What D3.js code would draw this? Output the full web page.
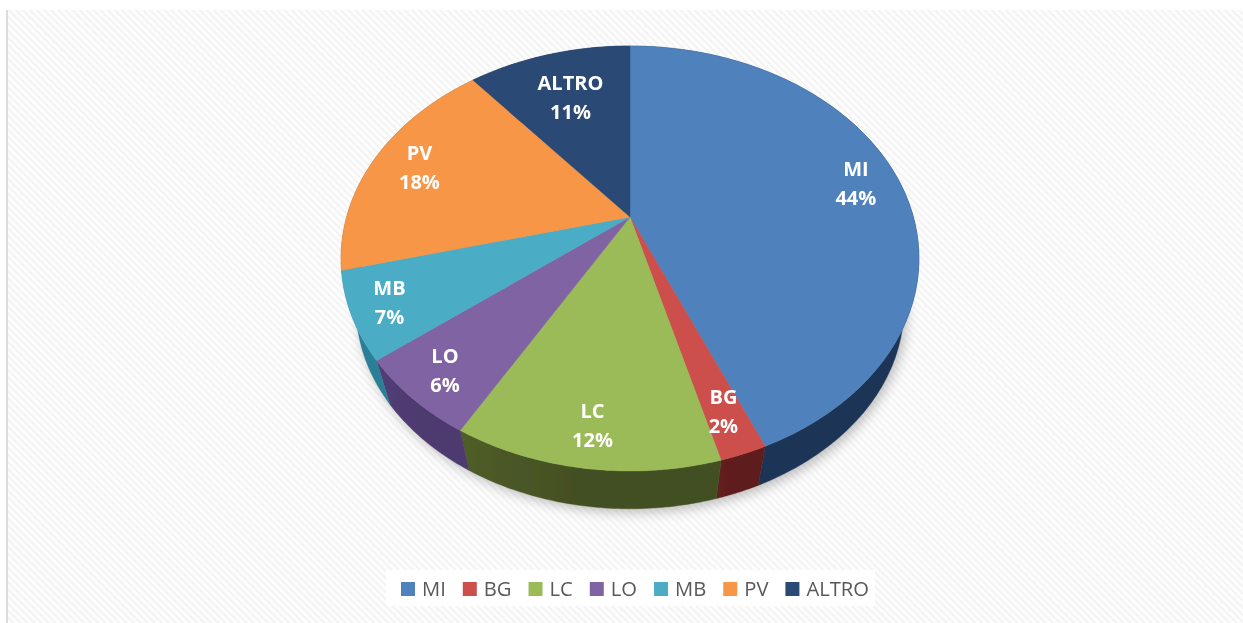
<!DOCTYPE html>
<html>
<head>
<meta charset="utf-8">
<script src="https://cdnjs.cloudflare.com/ajax/libs/d3/7.8.5/d3.min.js"></script>
<style>
html,body{margin:0;padding:0;background:#fff;overflow:hidden}
svg{display:block}
text{font-family:"Open Sans",sans-serif}
</style>
</head>
<body>
<div id="chart"></div>
<script>
const categories = ["MI","BG","LC","LO","MB","PV","ALTRO"];
const shares = [43.6,2.2,12.49,6.11,6.6,18,11];
const topColors = ["#4f81bd","#cc4f4c","#9bbb59","#8064a2","#4bacc6","#f79646","#2a4a75"];
const sideColors = ["#1d3557","#5e1e1e","#434f22","#4e3a70","#2b7f96","#a5601f","#1a2f4d"];
const labelReach = [0.84,0.85,0.86,0.87,0.875,0.82,0.70];

const W=1243,H=623;
const svg=d3.select("#chart").append("svg").attr("width",W).attr("height",H);
const defs=svg.append("defs");

const hatch=defs.append("pattern").attr("id","hatch").attr("width",5).attr("height",5)
  .attr("patternUnits","userSpaceOnUse").attr("patternTransform","rotate(45)");
hatch.append("rect").attr("width",5).attr("height",5).attr("fill","#fdfdfd");
hatch.append("rect").attr("width",5).attr("height",2).attr("fill","#f3f3f3");

const soft=defs.append("filter").attr("id","soft").attr("x","-10%").attr("y","-10%").attr("width","120%").attr("height","120%");
soft.append("feGaussianBlur").attr("stdDeviation",6);
const fine=defs.append("filter").attr("id","fine").attr("x","-5%").attr("y","-5%").attr("width","110%").attr("height","110%");
fine.append("feGaussianBlur").attr("stdDeviation",0.45);

svg.append("rect").attr("x",8).attr("y",10).attr("width",W-8).attr("height",H-10).attr("fill","url(#hatch)");
svg.append("rect").attr("x",6).attr("y",10).attr("width",2).attr("height",H-10).attr("fill","#dcdcdc");

// Perspective projection of the pie's disc
const apex={x:630,y:217};
const persp=0.1953, ax=283.4, ay=204.4;
const depthScale=0.948, depthShift=51;
function topPoint(angle,r=1){
  const x=Math.sin(angle)*r, y=-Math.cos(angle)*r, w=1-persp*y;
  return [apex.x+ax*x/w, apex.y+ay*y/w];
}
function basePoint(angle){
  const p=topPoint(angle);
  return [apex.x+(p[0]-apex.x)*depthScale, apex.y+(p[1]-apex.y)*depthScale+depthShift];
}
const line=d3.line();
const arcsData=d3.pie().sort(null).value(d=>d)(shares);
const samples=a=>d3.range(0,61).map(i=>a.startAngle+(a.endAngle-a.startAngle)*i/60);

const g=svg.append("g");
// ground shadow
const full=d3.range(0,181).map(i=>i/180*2*Math.PI);
g.append("path").attr("d",line(full.map(basePoint))+"Z")
  .attr("transform","translate(3,4)").attr("fill","#8a8a8a").attr("opacity",0.55).attr("filter","url(#soft)");

const pie=g.append("g").attr("filter","url(#fine)");
// extruded side walls
const sideGrad=defs.selectAll("linearGradient").data(sideColors).join("linearGradient")
  .attr("id",(d,i)=>"side"+i);
sideGrad.append("stop").attr("offset","0%").attr("stop-color",(d,i)=>d3.rgb(d).brighter(i===2?0.5:0.15));
sideGrad.append("stop").attr("offset","45%").attr("stop-color",d=>d);
sideGrad.append("stop").attr("offset","100%").attr("stop-color",d=>d);

pie.selectAll("path.side").data(arcsData).join("path").attr("class","side")
  .attr("d",a=>{
    const s=samples(a);
    return line(s.map(t=>topPoint(t)).concat(s.slice().reverse().map(basePoint)))+"Z";
  })
  .attr("fill",(a,i)=>`url(#side${i})`).attr("stroke",(a,i)=>sideColors[i]).attr("stroke-width",0.4);

// top faces
pie.selectAll("path.top").data(arcsData).join("path").attr("class","top")
  .attr("d",a=>line([[apex.x,apex.y]].concat(samples(a).map(t=>topPoint(t))))+"Z")
  .attr("fill",(a,i)=>topColors[i]).attr("stroke",(a,i)=>topColors[i]).attr("stroke-width",0.4);

// labels
const labels=svg.append("g").attr("filter","url(#fine)").selectAll("g").data(arcsData).join("g")
  .attr("transform",(a,i)=>{
    const p=topPoint((a.startAngle+a.endAngle)/2,labelReach[i]);
    return `translate(${p[0]},${p[1]})`;
  });
labels.append("text").attr("text-anchor","middle").attr("y",-8)
  .attr("font-size",20).attr("font-weight",700).attr("fill","#fff")
  .text((a,i)=>categories[i]);
labels.append("text").attr("text-anchor","middle").attr("y",21)
  .attr("font-size",20).attr("font-weight",700).attr("fill","#fff")
  .text(a=>Math.round(a.value)+"%");

// legend
const legend=svg.append("g").attr("filter","url(#fine)");
const legendBack=legend.append("rect").attr("x",386).attr("y",570).attr("height",36).attr("fill","#fff");
let cursor=401;
categories.forEach((c,i)=>{
  legend.append("rect").attr("x",cursor).attr("y",582).attr("width",14).attr("height",14).attr("fill",topColors[i]);
  const t=legend.append("text").attr("x",cursor+21).attr("y",596).attr("font-size",20.2).attr("fill","#595959").text(c);
  cursor+=21+t.node().getComputedTextLength()+17;
});
legendBack.attr("width",cursor-17+6-386);
</script>
</body>
</html>
